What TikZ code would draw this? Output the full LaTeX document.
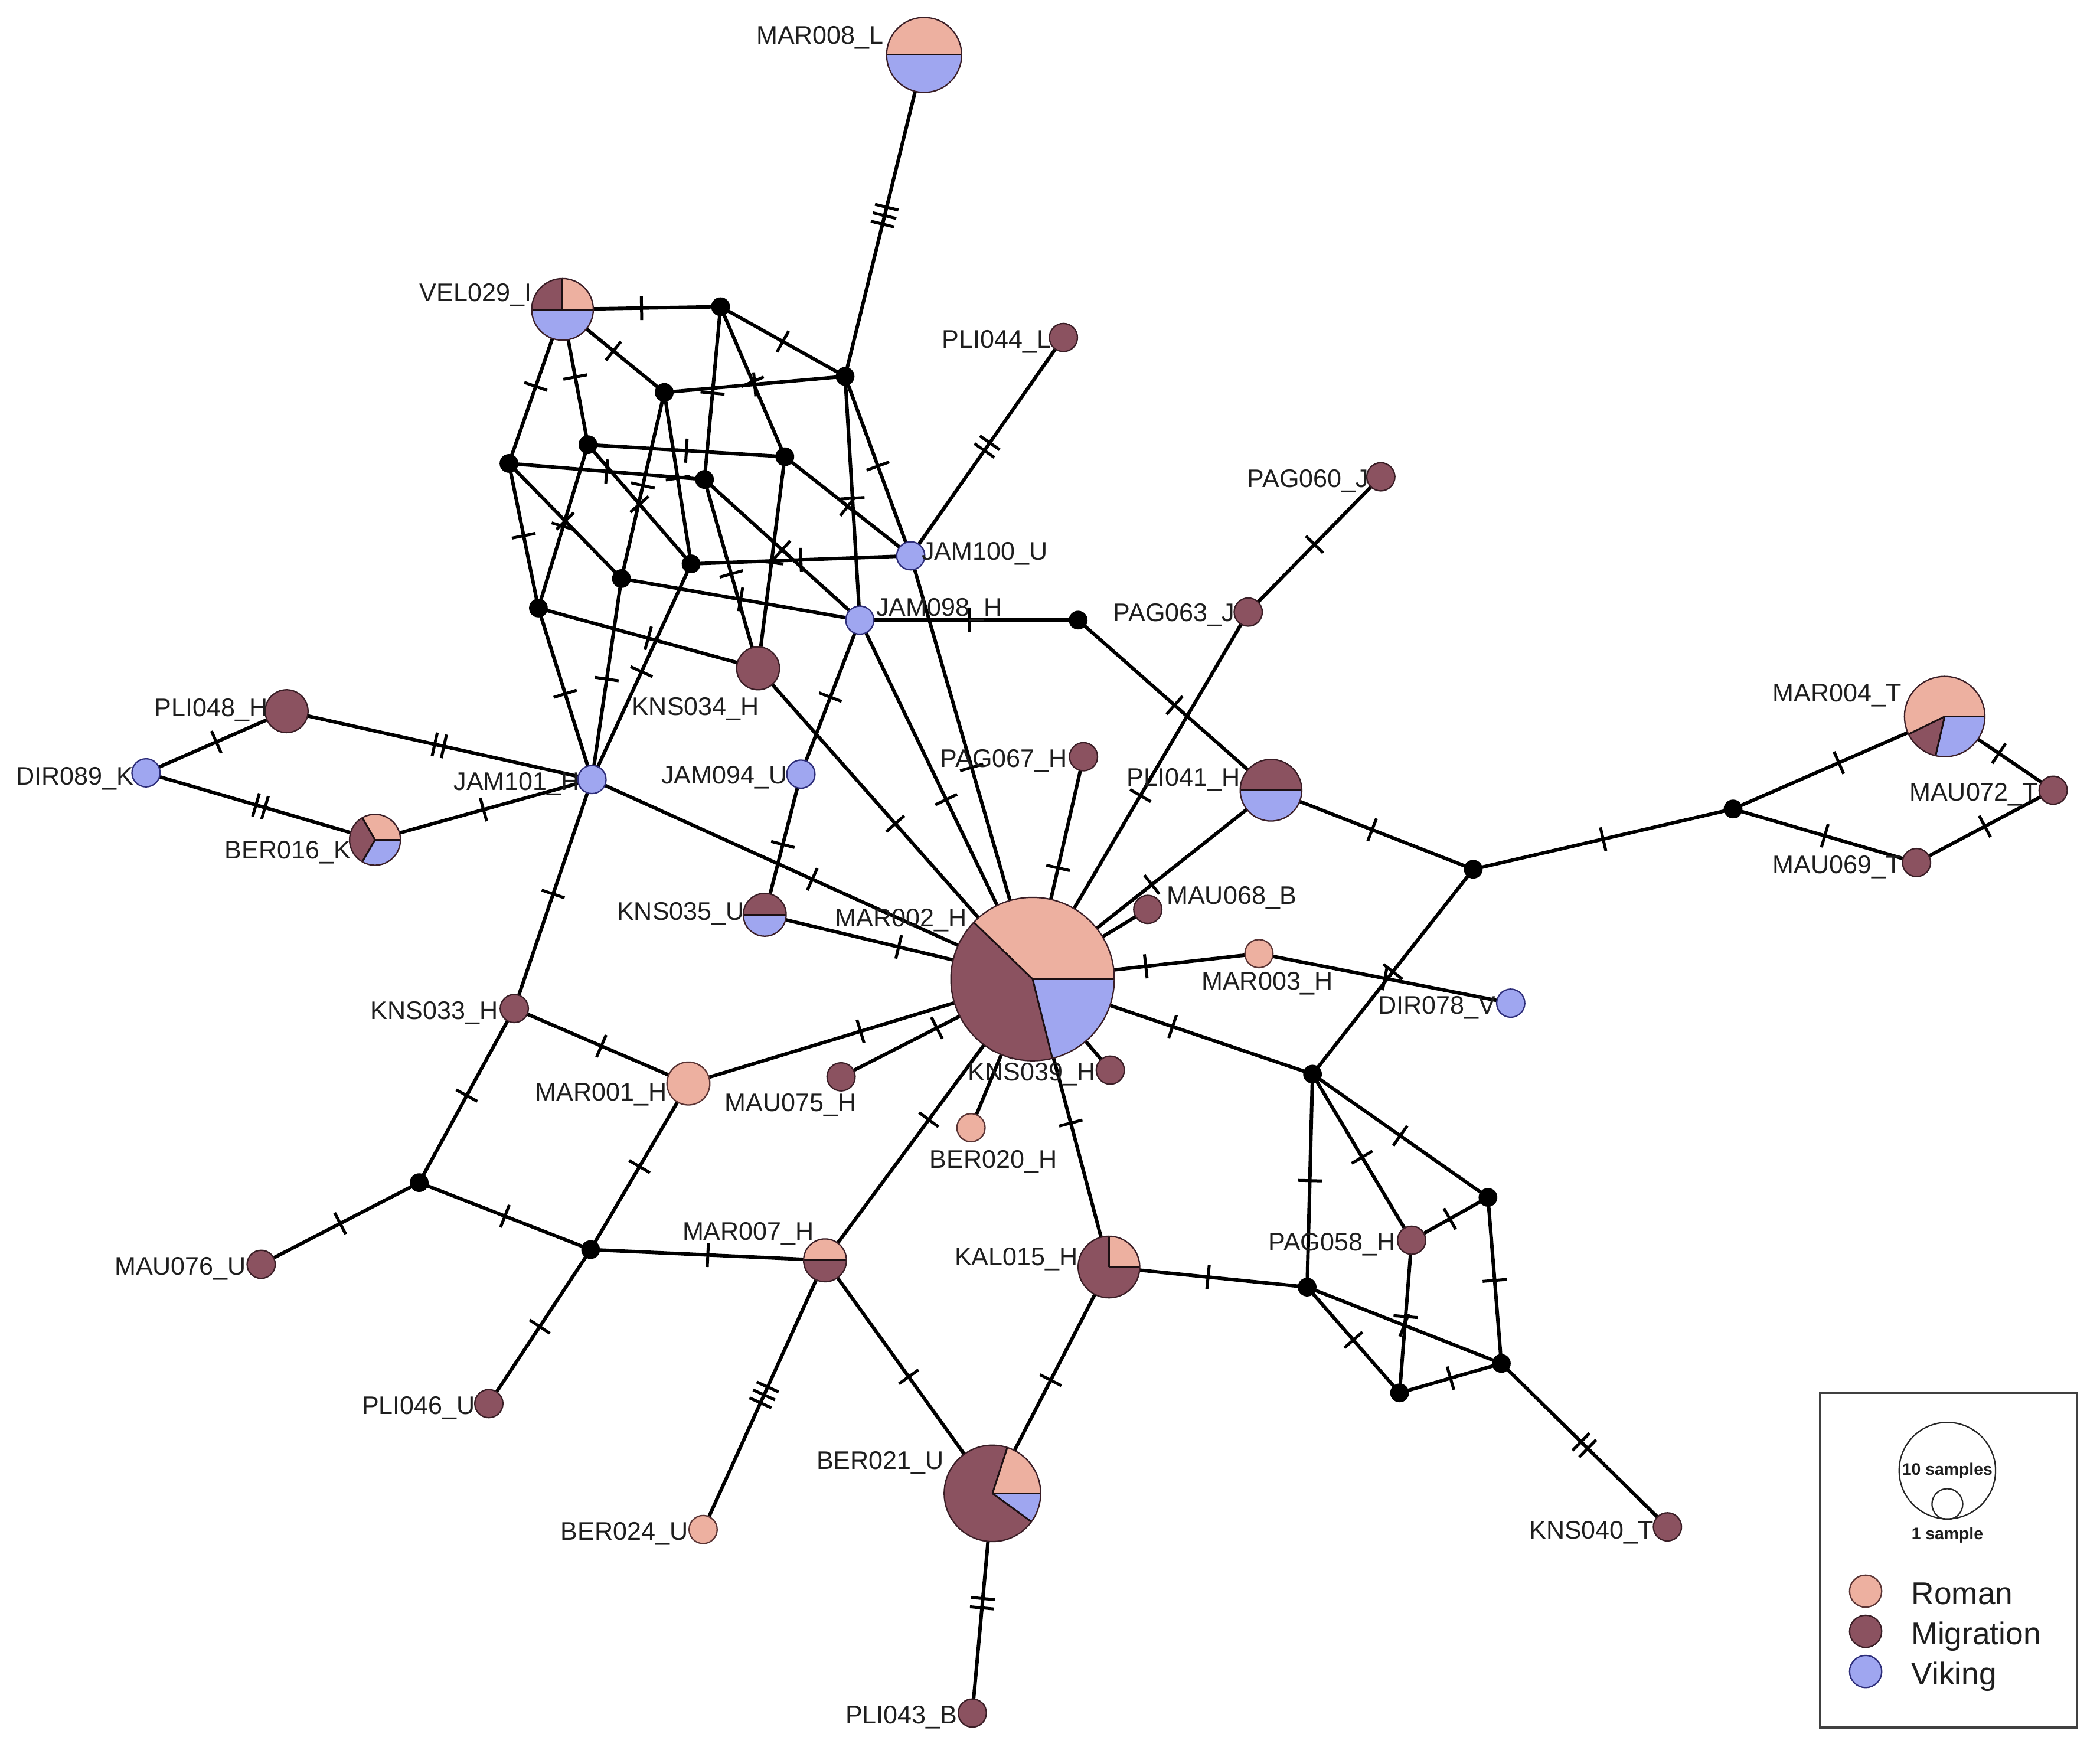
\documentclass[tikz,border=0pt]{standalone}
\usepackage{fontspec}
\setmainfont{Liberation Sans}
\usetikzlibrary{decorations.markings}
\definecolor{roman}{HTML}{EDB0A0}
\definecolor{migr}{HTML}{8B5260}
\definecolor{viki}{HTML}{9FA6F0}
\definecolor{romline}{HTML}{5A3434}
\definecolor{migline}{HTML}{3A1E26}
\definecolor{vikline}{HTML}{2E2E7A}
\definecolor{txt}{HTML}{1E1E1E}
\pgfdeclarelayer{edges}
\pgfsetlayers{edges,main}
\newcommand\piechart[3]{%
  \foreach \sa/\sb/\sc in {#3}{\fill[fill=\sc] (#1.center) -- ++(\sa:#2) arc[start angle=\sa, end angle=\sb, radius=#2] -- cycle;}
  \foreach \sa/\sb/\sc in {#3}{\draw[divline] (#1.center) -- ++(\sa:#2);}
  \draw[pieline] (#1.center) circle[radius=#2];
}
\tikzset{
  lnk/.style={line width=2.6pt, draw=black},
  tk/.style={line width=2.2pt, line cap=butt, draw=black},
  t1/.style={postaction={decorate, decoration={markings, mark=at position 0.5 with {\draw[tk] (0,-9)--(0,9);}}}},
  t2/.style={postaction={decorate, decoration={markings, mark=at position 0.5 with {\draw[tk] (-3.5,-9)--(-3.5,9) (3.5,-9)--(3.5,9);}}}},
  t3/.style={postaction={decorate, decoration={markings, mark=at position 0.5 with {\draw[tk] (-6.5,-9)--(-6.5,9) (0,-9)--(0,9) (6.5,-9)--(6.5,9);}}}},
  hap/.style={circle, inner sep=0pt, line width=1pt},
  rom/.style={hap, fill=roman, draw=romline},
  mig/.style={hap, fill=migr, draw=migline},
  vik/.style={hap, fill=viki, draw=vikline},
  pien/.style={circle, inner sep=0pt},
  sm/.style={minimum size=21pt},
  mv/.style={circle, fill=black, inner sep=0pt, minimum size=14pt},
  divline/.style={line width=1.3pt, draw=black!80!migr},
  pieline/.style={line width=1pt, draw=migline},
  lab/.style={inner sep=0pt, text=txt, font=\fontsize{19}{19}\selectfont},
  lgd/.style={inner sep=0pt, text=txt, font=\fontsize{23.5}{24}\selectfont},
  lgs/.style={inner sep=0pt, text=txt, font=\bfseries\fontsize{12.5}{13}\selectfont},
}
\begin{document}
\begin{tikzpicture}[x=1pt,y=1pt]
\useasboundingbox (0,0) rectangle (1568,-1304);
% haplotypes
\node[pien, minimum size=56pt] (MAR008) at (690,-41) {};
\node[pien, minimum size=46pt] (VEL029) at (420,-231) {};
\node[mig, sm] (PLI044) at (794,-252) {};
\node[mig, sm] (PAG060) at (1031,-356) {};
\node[vik, sm] (JAM100) at (680,-415) {};
\node[vik, sm] (JAM098) at (642,-463) {};
\node[mig, sm] (PAG063) at (932,-457) {};
\node[mig, minimum size=32pt] (KNS034) at (566,-499) {};
\node[mig, minimum size=32pt] (PLI048) at (214,-531) {};
\node[vik, sm] (DIR089) at (109,-577) {};
\node[vik, sm] (JAM101) at (442,-582) {};
\node[vik, sm] (JAM094) at (598,-578) {};
\node[pien, minimum size=38pt] (BER016) at (280,-627) {};
\node[mig, sm] (PAG067) at (809,-565) {};
\node[pien, minimum size=46pt] (PLI041) at (949,-590) {};
\node[pien, minimum size=60pt] (MAR004) at (1452,-535) {};
\node[mig, sm] (MAU072) at (1533,-590) {};
\node[mig, sm] (MAU069) at (1431,-644) {};
\node[pien, minimum size=32pt] (KNS035) at (571,-683) {};
\node[pien, minimum size=122pt] (MAR002) at (771,-731) {};
\node[mig, sm] (MAU068) at (857,-679) {};
\node[rom, sm] (MAR003) at (940,-712) {};
\node[vik, sm] (DIR078) at (1128,-749) {};
\node[mig, sm] (KNS033) at (384,-753) {};
\node[rom, minimum size=32pt] (MAR001) at (514,-809) {};
\node[mig, sm] (MAU075) at (628,-804) {};
\node[mig, sm] (KNS039) at (829,-799) {};
\node[rom, sm] (BER020) at (725,-842) {};
\node[pien, minimum size=32pt] (MAR007) at (616,-941) {};
\node[pien, minimum size=46pt] (KAL015) at (828,-946) {};
\node[mig, sm] (PAG058) at (1054,-926) {};
\node[mig, sm] (MAU076) at (195,-944) {};
\node[mig, sm] (PLI046) at (365,-1048) {};
\node[pien, minimum size=72pt] (BER021) at (741,-1115) {};
\node[rom, sm] (BER024) at (525,-1142) {};
\node[mig, sm] (KNS040) at (1245,-1140) {};
\node[mig, sm] (PLI043) at (726,-1279) {};
% median vectors
\node[mv] (m1) at (538,-229) {};
\node[mv] (m2) at (631,-281) {};
\node[mv] (m3) at (496,-293) {};
\node[mv] (m4) at (439,-332) {};
\node[mv] (m5) at (380,-346) {};
\node[mv] (m6) at (586,-341) {};
\node[mv] (m7) at (526,-358) {};
\node[mv] (m8) at (516,-421) {};
\node[mv] (m9) at (464,-432) {};
\node[mv] (m10) at (402,-454) {};
\node[mv] (m11) at (805,-463) {};
\node[mv] (m12) at (1294,-604) {};
\node[mv] (m13) at (1100,-649) {};
\node[mv] (m14) at (980,-802) {};
\node[mv] (m15) at (313,-883) {};
\node[mv] (m16) at (441,-933) {};
\node[mv] (m17) at (1111,-894) {};
\node[mv] (m18) at (976,-961) {};
\node[mv] (m19) at (1121,-1018) {};
\node[mv] (m20) at (1045,-1040) {};
% pies
\piechart{MAR008}{28}{0/180/roman,180/360/viki}
\piechart{VEL029}{23}{0/90/roman,90/180/migr,180/360/viki}
\piechart{BER016}{19}{0/120/roman,120/240/migr,240/360/viki}
\piechart{PLI041}{23}{0/180/migr,180/360/viki}
\piechart{MAR004}{30}{0/206/roman,206/257/migr,257/360/viki}
\piechart{KNS035}{16}{0/180/migr,180/360/viki}
\piechart{MAR002}{61}{0/136/roman,136/284/migr,284/360/viki}
\piechart{MAR007}{16}{0/180/roman,180/360/migr}
\piechart{KAL015}{23}{0/90/roman,90/360/migr}
\piechart{BER021}{36}{0/72/roman,72/324/migr,324/360/viki}
% edges
\begin{pgfonlayer}{edges}
\draw[lnk,t3] (MAR008.center) -- (m2.center);
\draw[lnk,t1] (VEL029.center) -- (m1.center);
\draw[lnk,t1] (VEL029.center) -- (m3.center);
\draw[lnk,t1] (VEL029.center) -- (m4.center);
\draw[lnk,t1] (VEL029.center) -- (m5.center);
\draw[lnk,t1] (m1.center) -- (m2.center);
\draw[lnk,t1] (m1.center) -- (m6.center);
\draw[lnk,t1] (m1.center) -- (m7.center);
\draw[lnk,t1] (m3.center) -- (m2.center);
\draw[lnk,t1] (m3.center) -- (m9.center);
\draw[lnk,t1] (m3.center) -- (m8.center);
\draw[lnk,t1] (m2.center) -- (JAM100.center);
\draw[lnk,t1] (m2.center) -- (JAM098.center);
\draw[lnk,t1] (m4.center) -- (m6.center);
\draw[lnk,t1] (m4.center) -- (m8.center);
\draw[lnk,t1] (m4.center) -- (m10.center);
\draw[lnk,t1] (m5.center) -- (m7.center);
\draw[lnk,t1] (m5.center) -- (m9.center);
\draw[lnk,t1] (m5.center) -- (m10.center);
\draw[lnk,t1] (m6.center) -- (KNS034.center);
\draw[lnk,t1] (m6.center) -- (JAM100.center);
\draw[lnk,t1] (m7.center) -- (KNS034.center);
\draw[lnk,t1] (m7.center) -- (JAM098.center);
\draw[lnk,t1] (m8.center) -- (JAM100.center);
\draw[lnk,t1] (m8.center) -- (JAM101.center);
\draw[lnk,t1] (m9.center) -- (JAM098.center);
\draw[lnk,t1] (m9.center) -- (JAM101.center);
\draw[lnk,t1] (m10.center) -- (KNS034.center);
\draw[lnk,t1] (m10.center) -- (JAM101.center);
\draw[lnk,t2] (PLI044.center) -- (JAM100.center);
\draw[lnk,t1] (JAM100.center) -- (MAR002.center);
\draw[lnk,t1] (JAM098.center) -- (MAR002.center);
\draw[lnk,t1] (JAM098.center) -- (m11.center);
\draw[lnk,t1] (JAM098.center) -- (JAM094.center);
\draw[lnk,t1] (JAM094.center) -- (KNS035.center);
\draw[lnk,t1] (KNS035.center) -- (MAR002.center);
\draw[lnk,t1] (KNS034.center) -- (MAR002.center);
\draw[lnk,t1] (JAM101.center) -- (MAR002.center);
\draw[lnk,t2] (JAM101.center) -- (PLI048.center);
\draw[lnk,t1] (JAM101.center) -- (BER016.center);
\draw[lnk,t1] (JAM101.center) -- (KNS033.center);
\draw[lnk,t1] (PLI048.center) -- (DIR089.center);
\draw[lnk,t2] (DIR089.center) -- (BER016.center);
\draw[lnk,t1] (m11.center) -- (PLI041.center);
\draw[lnk,t1] (PAG060.center) -- (PAG063.center);
\draw[lnk,t1] (PAG063.center) -- (MAR002.center);
\draw[lnk,t1] (PAG067.center) -- (MAR002.center);
\draw[lnk,t1] (PLI041.center) -- (MAR002.center);
\draw[lnk,t1] (PLI041.center) -- (m13.center);
\draw[lnk,t1] (m13.center) -- (m12.center);
\draw[lnk,t1] (m12.center) -- (MAR004.center);
\draw[lnk,t1] (m12.center) -- (MAU069.center);
\draw[lnk,t1] (MAR004.center) -- (MAU072.center);
\draw[lnk,t1] (MAU069.center) -- (MAU072.center);
\draw[lnk,t1] (m13.center) -- (m14.center);
\draw[lnk] (MAU068.center) -- (MAR002.center);
\draw[lnk,t1] (MAR003.center) -- (MAR002.center);
\draw[lnk,t1] (MAR003.center) -- (DIR078.center);
\draw[lnk] (KNS039.center) -- (MAR002.center);
\draw[lnk,t1] (m14.center) -- (MAR002.center);
\draw[lnk,t1] (m14.center) -- (m17.center);
\draw[lnk,t1] (m14.center) -- (PAG058.center);
\draw[lnk,t1] (m14.center) -- (m18.center);
\draw[lnk,t1] (PAG058.center) -- (m17.center);
\draw[lnk,t1] (PAG058.center) -- (m20.center);
\draw[lnk,t1] (m17.center) -- (m19.center);
\draw[lnk,t1] (m18.center) -- (m19.center);
\draw[lnk,t1] (m18.center) -- (m20.center);
\draw[lnk,t1] (m19.center) -- (m20.center);
\draw[lnk,t2] (m19.center) -- (KNS040.center);
\draw[lnk,t1] (m18.center) -- (KAL015.center);
\draw[lnk,t1] (KAL015.center) -- (MAR002.center);
\draw[lnk,t1] (KAL015.center) -- (BER021.center);
\draw[lnk,t1] (MAR007.center) -- (BER021.center);
\draw[lnk,t2] (BER021.center) -- (PLI043.center);
\draw[lnk,t1] (MAR007.center) -- (MAR002.center);
\draw[lnk,t1] (MAR007.center) -- (m16.center);
\draw[lnk,t3] (MAR007.center) -- (BER024.center);
\draw[lnk,t1] (m16.center) -- (MAR001.center);
\draw[lnk,t1] (m16.center) -- (m15.center);
\draw[lnk,t1] (m16.center) -- (PLI046.center);
\draw[lnk,t1] (m15.center) -- (MAU076.center);
\draw[lnk,t1] (m15.center) -- (KNS033.center);
\draw[lnk,t1] (KNS033.center) -- (MAR001.center);
\draw[lnk,t1] (MAR001.center) -- (MAR002.center);
\draw[lnk,t1] (MAU075.center) -- (MAR002.center);
\draw[lnk,t1] (BER020.center) -- (MAR002.center);
\end{pgfonlayer}
% labels
\node[lab, anchor=base east] (lMAR008) at (660,-33) {MAR008\_L};
\node[lab, anchor=base east] (lVEL029) at (397,-225) {VEL029\_I};
\node[lab, anchor=base east] (lPLI044) at (785,-260) {PLI044\_L};
\node[lab, anchor=base east] (lPAG060) at (1022,-364) {PAG060\_J};
\node[lab, anchor=base west] (lJAM100) at (688,-418) {JAM100\_U};
\node[lab, anchor=base west] (lJAM098) at (654,-460) {JAM098\_H};
\node[lab, anchor=base east] (lPAG063) at (922,-464) {PAG063\_J};
\node[lab, anchor=base east] (lKNS034) at (567,-534) {KNS034\_H};
\node[lab, anchor=base east] (lPLI048) at (200,-535) {PLI048\_H};
\node[lab, anchor=base east] (lDIR089) at (100,-586) {DIR089\_K};
\node[lab, anchor=base east] (lJAM101) at (433,-590) {JAM101\_H};
\node[lab, anchor=base east] (lJAM094) at (588,-585) {JAM094\_U};
\node[lab, anchor=base east] (lBER016) at (262,-641) {BER016\_K};
\node[lab, anchor=base east] (lPAG067) at (797,-573) {PAG067\_H};
\node[lab, anchor=base east] (lPLI041) at (926,-587) {PLI041\_H};
\node[lab, anchor=base east] (lMAR004) at (1420,-524) {MAR004\_T};
\node[lab, anchor=base east] (lMAU072) at (1522,-598) {MAU072\_T};
\node[lab, anchor=base east] (lMAU069) at (1420,-652) {MAU069\_T};
\node[lab, anchor=base east] (lKNS035) at (556,-687) {KNS035\_U};
\node[lab, anchor=base east] (lMAR002) at (722,-692) {MAR002\_H};
\node[lab, anchor=base west] (lMAU068) at (871,-675) {MAU068\_B};
\node[lab, anchor=base west] (lMAR003) at (897,-739) {MAR003\_H};
\node[lab, anchor=base east] (lDIR078) at (1117,-757) {DIR078\_V};
\node[lab, anchor=base east] (lKNS033) at (372,-761) {KNS033\_H};
\node[lab, anchor=base east] (lMAR001) at (498,-822) {MAR001\_H};
\node[lab, anchor=base west] (lMAU075) at (541,-830) {MAU075\_H};
\node[lab, anchor=base east] (lKNS039) at (818,-807) {KNS039\_H};
\node[lab, anchor=base west] (lBER020) at (694,-872) {BER020\_H};
\node[lab, anchor=base east] (lMAR007) at (608,-926) {MAR007\_H};
\node[lab, anchor=base east] (lKAL015) at (805,-945) {KAL015\_H};
\node[lab, anchor=base east] (lPAG058) at (1042,-934) {PAG058\_H};
\node[lab, anchor=base east] (lMAU076) at (184,-952) {MAU076\_U};
\node[lab, anchor=base east] (lPLI046) at (355,-1056) {PLI046\_U};
\node[lab, anchor=base east] (lBER021) at (705,-1097) {BER021\_U};
\node[lab, anchor=base east] (lBER024) at (514,-1150) {BER024\_U};
\node[lab, anchor=base east] (lKNS040) at (1235,-1149) {KNS040\_T};
\node[lab, anchor=base east] (lPLI043) at (715,-1287) {PLI043\_B};
% legend
\node[draw=black!75, line width=1.8pt, minimum width=192pt, minimum height=250pt, anchor=north west, inner sep=0pt] (legend) at (1358,-1039) {};
\node[circle, draw=black!85, line width=1pt, minimum size=72pt, inner sep=0pt] (ten) at (1454,-1098) {};
\node[circle, draw=black!85, line width=1pt, minimum size=23pt, inner sep=0pt] (one) at (1454,-1123) {};
\node[lgs] (tentxt) at (1454,-1098) {10 samples};
\node[lgs] (onetxt) at (1454,-1146) {1 sample};
\node[rom, minimum size=24pt] (lr) at (1393,-1188) {};
\node[mig, minimum size=24pt] (lm) at (1393,-1218) {};
\node[vik, minimum size=24pt] (lv) at (1393,-1248) {};
\node[lgd, anchor=base west] (lrt) at (1427,-1198) {Roman};
\node[lgd, anchor=base west] (lmt) at (1427,-1228) {Migration};
\node[lgd, anchor=base west] (lvt) at (1427,-1258) {Viking};
\end{tikzpicture}
\end{document}
